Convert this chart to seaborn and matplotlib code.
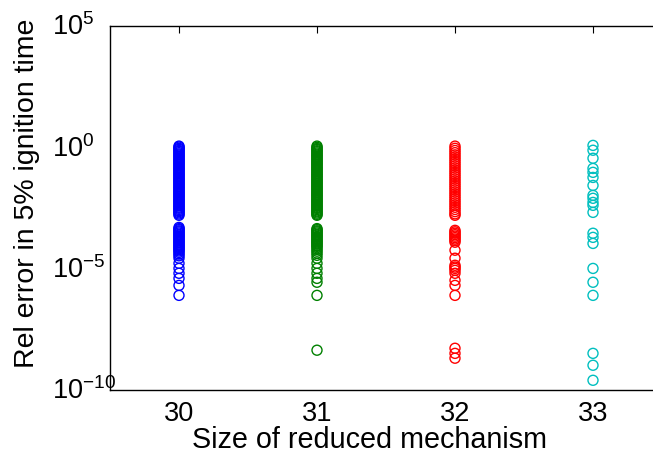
import numpy as np
import pandas as pd
import matplotlib
matplotlib.use("Agg")
import matplotlib.pyplot as plt
import matplotlib.transforms as mtransforms
import seaborn as sns

sns.set_style("white")
plt.rcParams["font.family"] = ["Liberation Sans", "DejaVu Sans"]
plt.rcParams["mathtext.fontset"] = "custom"
plt.rcParams["mathtext.rm"] = "Liberation Sans"
plt.rcParams["mathtext.it"] = "Liberation Sans"
plt.rcParams["mathtext.default"] = "regular"
plt.rcParams["text.color"] = "black"
plt.rcParams["axes.labelcolor"] = "black"
plt.rcParams["xtick.color"] = "black"
plt.rcParams["ytick.color"] = "black"

# ---- data: log10 of relative error ----
sizes = [30, 31, 32, 33]
colors = ["#0000ff", "#008000", "#ff0000", "#00bfbf"]

log_err_30 = [0.05, 0.01, -0.04, -0.08, -0.13, -0.17, -0.22, -0.27, -0.31, -0.36,
              -0.40, -0.45, -0.50, -0.54, -0.59, -0.63, -0.68, -0.72, -0.77, -0.82,
              -0.86, -0.91, -0.95, -1.00, -1.05, -1.09, -1.14, -1.18, -1.23, -1.28,
              -1.32, -1.37, -1.41, -1.46, -1.50, -1.55, -1.60, -1.64, -1.69, -1.73,
              -1.78, -1.83, -1.87, -1.92, -1.96, -2.01, -2.05, -2.10, -2.15, -2.19,
              -2.24, -2.28, -2.33, -2.38, -2.42, -2.47, -2.51, -2.56, -2.61, -2.65,
              -2.70, -2.75, -2.80,
              -3.30, -3.35, -3.39, -3.44, -3.48, -3.53, -3.58, -3.62, -3.67, -3.71,
              -3.76, -3.81, -3.85, -3.90, -3.94, -3.99, -4.04, -4.08, -4.13, -4.17,
              -4.22, -4.27, -4.33, -4.40, -4.47, -4.57,
              -4.78, -4.99, -5.19, -5.40, -5.69, -6.10]

log_err_31 = [0.05, 0.00, -0.05, -0.09, -0.14, -0.18, -0.23, -0.28, -0.32, -0.37,
              -0.41, -0.46, -0.51, -0.55, -0.60, -0.64, -0.69, -0.73, -0.78, -0.83,
              -0.87, -0.92, -0.96, -1.01, -1.06, -1.10, -1.15, -1.19, -1.24, -1.29,
              -1.33, -1.38, -1.42, -1.47, -1.51, -1.56, -1.61, -1.65, -1.70, -1.74,
              -1.79, -1.84, -1.88, -1.93, -1.97, -2.02, -2.06, -2.11, -2.16, -2.20,
              -2.25, -2.29, -2.34, -2.39, -2.43, -2.48, -2.52, -2.57, -2.62, -2.66,
              -2.71, -2.76, -2.80,
              -3.35, -3.39, -3.44, -3.48, -3.53, -3.58, -3.62, -3.67, -3.71, -3.76,
              -3.81, -3.85, -3.90, -3.94, -3.99, -4.04, -4.08, -4.14, -4.21, -4.28,
              -4.36, -4.45, -4.57,
              -4.78, -4.99, -5.19, -5.40, -5.56, -6.10, -8.36]

log_err_32 = [0.05, -0.04, -0.13, -0.22, -0.31, -0.40, -0.49, -0.58, -0.67, -0.76,
              -0.85, -0.94, -1.03, -1.12, -1.21, -1.30, -1.39, -1.48, -1.57, -1.66,
              -1.75, -1.84, -1.93, -2.02, -2.11, -2.20, -2.29, -2.38, -2.47, -2.56,
              -2.65, -2.74, -2.80,
              -3.42, -3.48, -3.54, -3.60, -3.66, -3.72, -3.78, -3.84, -3.91,
              -4.24, -4.57, -4.86, -4.93, -4.99, -5.07, -5.19, -5.48, -5.69, -6.10,
              -8.28, -8.49, -8.69]

log_err_33 = [0.08, -0.12, -0.45, -0.87, -1.03, -1.24, -1.57, -1.98, -2.10, -2.27,
              -2.39, -2.68, -3.54, -3.71, -3.96, -4.99, -5.56, -6.10, -8.49, -8.98,
              -9.60]

series = [log_err_30, log_err_31, log_err_32, log_err_33]
df = pd.DataFrame({
    "size": np.concatenate([[s] * len(v) for s, v in zip(sizes, series)]),
    "err": np.concatenate([10.0 ** np.array(v) for v in series]),
})

fig = plt.figure(figsize=(6.53, 4.54), dpi=100)
ax = fig.add_axes([110 / 653, 64 / 454, 552 / 653, 364 / 454])

for s, c in zip(sizes, colors):
    sub = df[df["size"] == s]
    sns.scatterplot(data=sub, x="size", y="err", ax=ax, marker="o", s=52,
                    facecolor="none", edgecolor=c, linewidth=1.0, legend=False)

ax.set_yscale("log")
ax.set_ylim(1e-10, 1e5)
ax.set_xlim(29.5, 33.5)
ax.set_xticks(sizes)
ax.set_xticklabels([str(s) for s in sizes])
ax.set_yticks([1e-10, 1e-5, 1e0, 1e5])
ax.set_yticklabels([r"$10^{-10}$", r"$10^{-5}$", r"$10^{0}$", r"$10^{5}$"])
ax.yaxis.set_minor_locator(matplotlib.ticker.NullLocator())
ax.tick_params(axis="both", which="major", direction="in", length=5, width=0.8,
               labelsize=19.5, top=True, right=True, color="black",
               labelcolor="black")
ax.tick_params(axis="x", pad=8)
ax.tick_params(axis="y", pad=42)
offset = mtransforms.ScaledTranslation(0, 1.5 / 100, fig.dpi_scale_trans)
for lab in ax.get_yticklabels():
    lab.set_horizontalalignment("left")
    lab.set_transform(lab.get_transform() + offset)
for sp in ax.spines.values():
    sp.set_visible(True)
    sp.set_color("black")
    sp.set_linewidth(1.0)

ax.set_xlabel("Size of reduced mechanism", fontsize=20.7, color="black")
ax.set_ylabel("Rel error in 5% ignition time", fontsize=20.5, color="black")
ax.yaxis.set_label_coords(-0.127, 0.54)
ax.xaxis.set_label_coords(0.471, -0.098)

fig.savefig("out.png", dpi=100)
